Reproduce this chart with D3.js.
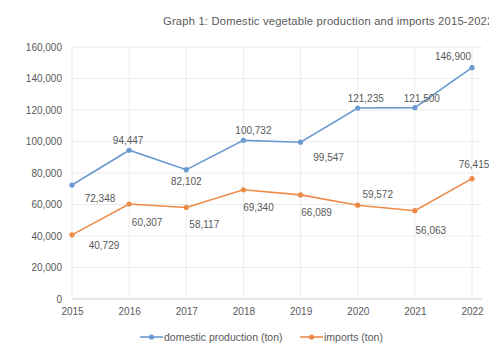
<!DOCTYPE html>
<html><head><meta charset="utf-8">
<script src="https://cdn.jsdelivr.net/npm/d3@7"></script>
<style>body{margin:0;background:#fff;overflow:hidden}svg{display:block}text{font-family:"Liberation Sans",Arial,sans-serif;fill:#595959}</style>
</head><body><svg id="c" width="489" height="346"></svg>
<script>
const years = [2015, 2016, 2017, 2018, 2019, 2020, 2021, 2022];
const domestic = [72348, 94447, 82102, 100732, 99547, 121235, 121500, 146900];
const imports = [40729, 60307, 58117, 69340, 66089, 59572, 56063, 76415];
const yTicks = [0, 20000, 40000, 60000, 80000, 100000, 120000, 140000, 160000];
const seriesNames = ["domestic production (ton)", "imports (ton)"];
const title = "Graph 1: Domestic vegetable production and imports 2015-2022";

// label placement (layout, not data): [dx, dy] relative to point
const domLabelOff = [[28,13],[-1,-10],[0,12],[10,-10],[28,15],[8,-10],[7,-9],[-19,-11]];
const impLabelOff = [[32,11],[18,18],[18,17],[15,18],[16,18],[20,-11],[16,20],[2,-14]];

const svg = d3.select("#c");
const x = d3.scalePoint().domain(years).range([72, 472]);
const y = d3.scaleLinear().domain([0, 160000]).range([299, 47]);
const fmt = d3.format(",");
const FONT = '"Liberation Sans",Arial,sans-serif';

svg.append("text").attr("x", 163).attr("y", 25).attr("font-size", 11.2)
  .attr("letter-spacing", 0.2).text(title);

// horizontal grid
svg.append("g").selectAll("line").data(yTicks).join("line")
  .attr("x1", 72).attr("x2", 482).attr("y1", d => y(d)).attr("y2", d => y(d))
  .attr("stroke", d => d === 0 ? "#d0d0d0" : "#ececec").attr("stroke-width", 1);
// vertical grid
svg.append("g").selectAll("line").data(years).join("line")
  .attr("x1", d => x(d)).attr("x2", d => x(d)).attr("y1", 47).attr("y2", 299)
  .attr("stroke", "#ececec");

const yAxis = svg.append("g").attr("transform", "translate(72,0)")
  .call(d3.axisLeft(y).tickValues(yTicks).tickFormat(fmt).tickSize(0).tickPadding(10));
yAxis.select(".domain").remove();
yAxis.selectAll("text").attr("font-size", 10).style("fill", "#595959").style("font-family", FONT);

const xAxis = svg.append("g").attr("transform", "translate(0,299)")
  .call(d3.axisBottom(x).tickSize(0).tickPadding(9));
xAxis.select(".domain").remove();
xAxis.selectAll("text").attr("font-size", 10).style("fill", "#595959").style("font-family", FONT);

const colors = ["#6a9bd0", "#ee8a48"];
const line = d3.line().x((d, i) => x(years[i])).y(d => y(d));
[[domestic, domLabelOff], [imports, impLabelOff]].forEach(([vals, offs], si) => {
  svg.append("path").datum(vals).attr("d", line).attr("fill", "none")
    .attr("stroke", colors[si]).attr("stroke-width", 1.6);
  svg.append("g").selectAll("circle").data(vals).join("circle")
    .attr("cx", (d, i) => x(years[i])).attr("cy", d => y(d)).attr("r", 2.6)
    .attr("fill", colors[si]);
  svg.append("g").selectAll("text").data(vals).join("text")
    .attr("x", (d, i) => x(years[i]) + offs[i][0])
    .attr("y", (d, i) => y(d) + offs[i][1])
    .attr("text-anchor", "middle").attr("font-size", 10).attr("dy", "0.35em")
    .text(d => fmt(d));
});

// legend
const lg = [[140, seriesNames[0]], [300, seriesNames[1]]];
lg.forEach(([lx, name], i) => {
  svg.append("line").attr("x1", lx).attr("x2", lx + 23).attr("y1", 337).attr("y2", 337)
    .attr("stroke", colors[i]).attr("stroke-width", 1.6);
  svg.append("circle").attr("cx", lx + 11.5).attr("cy", 337).attr("r", 2.6).attr("fill", colors[i]);
  svg.append("text").attr("x", lx + 24).attr("y", 337).attr("dy", "0.35em")
    .attr("font-size", 10.5).text(name);
});
</script></body></html>
